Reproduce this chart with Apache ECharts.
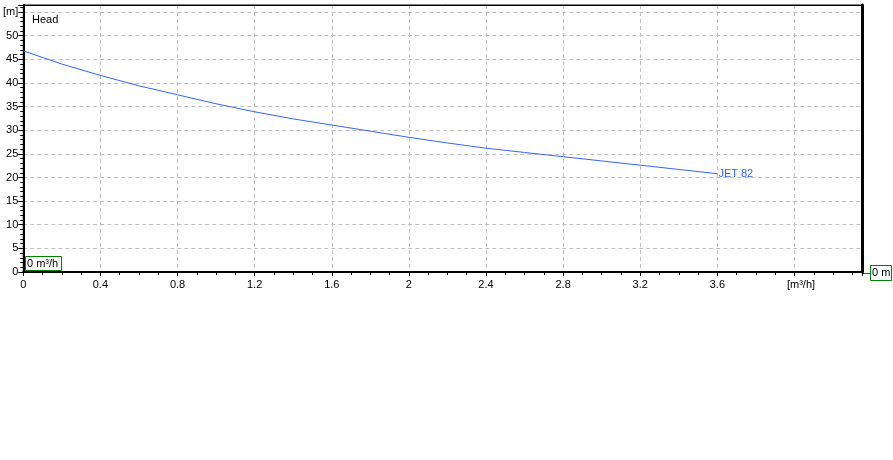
<!DOCTYPE html>
<html><head><meta charset="utf-8">
<script src="https://cdn.jsdelivr.net/npm/echarts@6/dist/echarts.min.js"></script>
<style>html,body{margin:0;padding:0;background:#fff}#c{width:893px;height:460px}</style>
</head><body><div id="c"></div>
<script>
var flow = [0, 0.2, 0.4, 0.6, 0.8, 1.0, 1.2, 1.4, 1.6, 1.8, 2.0, 2.2, 2.4, 2.6, 2.8, 3.0, 3.2, 3.4, 3.6];
var head = [46.8, 44.0, 41.6, 39.4, 37.5, 35.6, 33.9, 32.4, 31.1, 29.8, 28.5, 27.3, 26.2, 25.3, 24.4, 23.5, 22.6, 21.7, 20.8];
var seriesName = 'JET 82';
var xMax = 4.35, yMax = 56.5;
var F = 'Liberation Sans, Arial, sans-serif';
var chart = echarts.init(document.getElementById('c'));
var data = flow.map(function (q, i) { return [q, head[i]]; });
chart.setOption({
  animation: false,
  grid: { left: 22, top: 5, right: 31, bottom: 188, show: true, borderColor: '#000', borderWidth: 1, backgroundColor: '#fff' },
  xAxis: [{
    type: 'value', min: 0, max: xMax, interval: 0.4,
    axisLine: { show: true, onZero: false, lineStyle: { color: '#000', width: 2 } },
    axisTick: { show: true, length: 4, lineStyle: { color: '#000' } },
    minorTick: { show: true, splitNumber: 4, length: 3, lineStyle: { color: '#000' } },
    splitLine: { show: true, showMaxLine: false, lineStyle: { color: '#c0c0c0', type: [4, 3] } },
    axisLabel: {
      color: '#000', fontFamily: F, fontSize: 11, margin: 7, showMaxLabel: false,
      rich: { u: { padding: [0, 0, 0, 13], fontFamily: F, fontSize: 11, color: '#000' } },
      formatter: function (v) {
        if (Math.abs(v - 4) < 1e-6) return '{u|[m³/h]}';
        if (v > 4.1) return '';
        return String(Math.round(v * 10) / 10);
      }
    }
  }, {
    type: 'value', min: 0, max: xMax, position: 'top', z: 5,
    axisLine: { show: true, onZero: false, lineStyle: { color: '#000', width: 1 } },
    axisTick: { show: false }, axisLabel: { show: false }, splitLine: { show: false }
  }],
  yAxis: [{
    type: 'value', min: 0, max: yMax, interval: 5,
    axisLine: { show: true, lineStyle: { color: '#000', width: 2 } },
    axisTick: { show: true, length: 5, lineStyle: { color: '#000' } },
    minorTick: { show: true, splitNumber: 5, length: 3, lineStyle: { color: '#000' } },
    splitLine: { show: true, showMaxLine: false, lineStyle: { color: '#c0c0c0', type: [4, 3] } },
    axisLabel: {
      color: '#000', fontFamily: F, fontSize: 11, margin: 5, showMaxLabel: false,
      formatter: function (v) {
        if (v === 55) return '[m]';
        if (v > 55) return '';
        return String(v);
      }
    }
  }, {
    type: 'value', min: 0, max: yMax, position: 'right', z: 5,
    axisLine: { show: true, onZero: false, lineStyle: { color: '#000', width: 3 } },
    axisTick: { show: false }, axisLabel: { show: false }, splitLine: { show: false }
  }],
  series: [{
    name: seriesName, type: 'line', data: data, showSymbol: false, smooth: false,
    lineStyle: { color: '#3366ff', width: 1 },
    endLabel: { show: true, formatter: seriesName, color: '#3366ff', fontFamily: F, fontSize: 11, distance: 1 }
  }],
  graphic: [
    { type: 'text', left: 32, top: 14, style: { text: 'Head', fill: '#000', font: '11px ' + F } },
    { type: 'rect', shape: { x: 25.5, y: 256.5, width: 36, height: 14 }, style: { fill: '#fff', stroke: '#008000', lineWidth: 1 } },
    { type: 'text', left: 27, top: 258, style: { text: '0 m³/h', fill: '#000', font: '11px ' + F } },
    { type: 'line', shape: { x1: 863, y1: 273.5, x2: 871, y2: 273.5 }, style: { stroke: '#008000', lineWidth: 1 } },
    { type: 'rect', shape: { x: 870.5, y: 265.5, width: 21, height: 15 }, style: { fill: '#fff', stroke: '#008000', lineWidth: 1 } },
    { type: 'text', left: 872, top: 267, style: { text: '0 m', fill: '#000', font: '11px ' + F } }
  ]
});
</script></body></html>
